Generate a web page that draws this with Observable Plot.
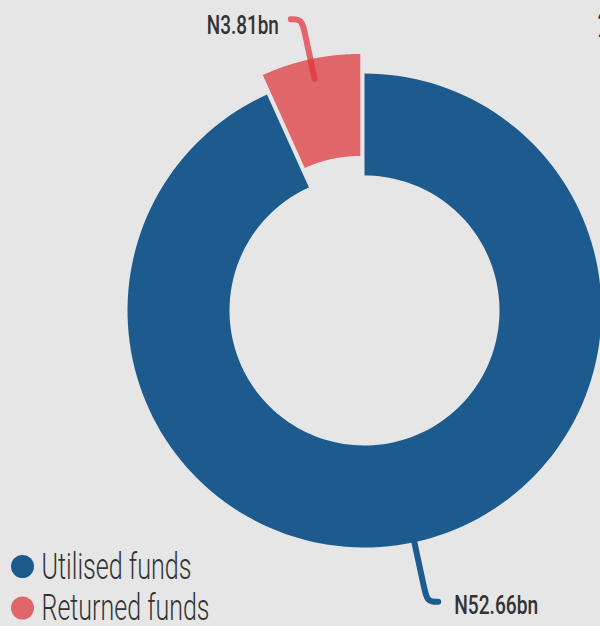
<!DOCTYPE html>
<html>
<head>
<meta charset="utf-8">
<script src="https://cdn.jsdelivr.net/npm/d3@7"></script>
<script src="https://cdn.jsdelivr.net/npm/@observablehq/plot@0.6"></script>
<style>
  html, body { margin: 0; padding: 0; background: #e6e6e6; overflow: hidden; }
  #chart svg { display: block; }
</style>
</head>
<body>
<div id="chart"></div>
<script>
// ---- data ----
const categories = ["Utilised funds", "Returned funds"];
const values = [52.66, 3.81];
const valueLabels = ["N52.66bn", "N3.81bn"];
const colors = ["#1d5b8f", "#e0666a"];
const leaderColors = ["#1d5b8f", "#e3323c"];
const cornerText = ["2"];

// ---- layout (pixels) ----
const W = 600, H = 626;
const cx = 364, cy = 310, k = 237;        // centre and outer radius in px
const innerR = 135 / k, outerR = 1;
const explodePx = [0, 20];
const ux = px => (px - cx) / k;
const uy = py => (cy - py) / k;
// condensed-look widths for texts (px)
const textWidths = {"Utilised funds": 150, "Returned funds": 168, "N52.66bn": 84, "N3.81bn": 72};

const data = categories.map((c, i) => ({name: c, value: values[i], label: valueLabels[i]}));
const arcs = d3.pie().sort(null).value(d => d.value)(data);

// slice polygons
const polys = [];
arcs.forEach((p, i) => {
  const mid = (p.startAngle + p.endAngle) / 2;
  const ox = explodePx[i] / k * Math.sin(mid), oy = explodePx[i] / k * Math.cos(mid);
  const n = 160;
  for (let j = 0; j <= n; j++) {
    const a = p.startAngle + (p.endAngle - p.startAngle) * j / n;
    polys.push({name: p.data.name, x: ox + outerR * Math.sin(a), y: oy + outerR * Math.cos(a)});
  }
  for (let j = n; j >= 0; j--) {
    const a = p.startAngle + (p.endAngle - p.startAngle) * j / n;
    polys.push({name: p.data.name, x: ox + innerR * Math.sin(a), y: oy + innerR * Math.cos(a)});
  }
});

// leader lines & labels
const leaderMarks = [];
arcs.forEach((p, i) => {
  const m = (p.startAngle + p.endAngle) / 2;
  const sx = Math.sin(m), sy = Math.cos(m);
  const side = sx < 0 ? -1 : 1;
  const r0 = 1, r1 = 284 / k, r2 = 298 / k;
  const hook = 11 / k;
  const pts = [
    {x: r0 * sx, y: r0 * sy},
    {x: r1 * sx, y: r1 * sy},
    {x: r2 * sx, y: r2 * sy},
    {x: r2 * sx + side * hook, y: r2 * sy}
  ];
  leaderMarks.push(Plot.line(pts, {
    x: "x", y: "y", curve: "basis",
    stroke: leaderColors[i], strokeWidth: 6,
    strokeOpacity: i === 1 ? 0.72 : 1
  }));
  const end = pts[3];
  leaderMarks.push(Plot.text([p.data], {
    x: () => end.x, y: () => end.y,
    text: "label",
    textAnchor: side < 0 ? "end" : "start",
    dx: side < 0 ? -12 : 16,
    dy: side < 0 ? 7 : 4,
    fontSize: 26, fontWeight: 500,
    fill: "#333"
  }));
});

const chart = Plot.plot({
  width: W, height: H,
  margin: 0,
  x: {domain: [ux(0), ux(W)], axis: null},
  y: {domain: [uy(H), uy(0)], axis: null},
  color: {domain: categories, range: colors},
  style: {background: "#e6e6e6", fontFamily: "Roboto, 'DejaVu Sans Condensed', sans-serif", overflow: "hidden"},
  marks: [
    Plot.line(polys, {x: "x", y: "y", z: "name", fill: "name", stroke: "none", curve: "linear-closed"}),
    ...leaderMarks,
    // legend
    Plot.dot(data, {x: () => ux(22), y: (d, i) => uy(566 + i * 41.5), r: 11.5, fill: "name"}),
    Plot.text(data, {x: () => ux(41), y: (d, i) => uy(566.5 + i * 41), text: "name", textAnchor: "start",
      fontSize: 36, fontWeight: 300, fill: "#333"}),
    // clipped heading fragment at top-right
    Plot.text(cornerText, {x: () => ux(596), y: () => uy(25), text: d => d, textAnchor: "start",
      fontSize: 36, fontWeight: 300, fill: "#333"})
  ]
});
chart.querySelectorAll("text").forEach(t => {
  const w = textWidths[t.textContent];
  if (w) { t.setAttribute("textLength", w); t.setAttribute("lengthAdjust", "spacingAndGlyphs"); }
});
document.getElementById("chart").appendChild(chart);
</script>
</body>
</html>
